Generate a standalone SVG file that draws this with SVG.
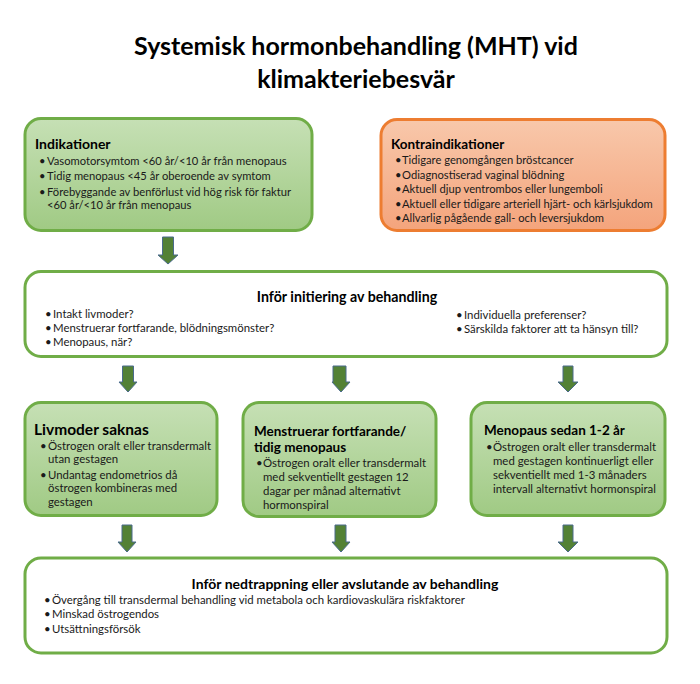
<svg xmlns="http://www.w3.org/2000/svg" width="700" height="684" viewBox="0 0 700 684">
<defs>
<linearGradient id="gG" x1="0" y1="0" x2="0" y2="1">
<stop offset="0" stop-color="#c6e0b5"/>
<stop offset="1" stop-color="#a0ca84"/>
</linearGradient>
<linearGradient id="gO" x1="0" y1="0" x2="0" y2="1">
<stop offset="0" stop-color="#f8c8ab"/>
<stop offset="1" stop-color="#f4a47c"/>
</linearGradient>
<style>
.t{font-family:Lato,"Liberation Sans",sans-serif;fill:#000}
.h{font-weight:bold;font-size:13.5px}
.b{font-size:11.2px;fill:#1a1a1a}
.bs{font-size:11.4px;fill:#1a1a1a}
.bl{font-size:11.4px;fill:#1a1a1a}
.gbox{fill:url(#gG);stroke:#70ad47;stroke-width:3}
.wbox{fill:#fff;stroke:#70ad47;stroke-width:3}
.obox{fill:url(#gO);stroke:#ed7d31;stroke-width:3}
.arr{fill:#538135;stroke:#4a6b8c;stroke-width:1}
</style>
</defs>
<rect width="700" height="684" fill="#fff"/>
<g id="title">
<text class="t" x="356" y="55" text-anchor="middle" font-size="25" font-weight="bold">Systemisk hormonbehandling (MHT) vid</text>
<text class="t" x="356" y="88" text-anchor="middle" font-size="25" font-weight="bold">klimakteriebesvär</text>
</g>
<g id="connectors">
<path class="arr" d="M162.5,237 H173.5 V255 H178 L168,264 L158,255 H162.5 Z"/>
<path class="arr" d="M122.5,366 H133.5 V382 H137 L128,392 L119,382 H122.5 Z"/>
<path class="arr" d="M333,366 H346 V382 H350 L341,392 L332,382 H333 Z"/>
<path class="arr" d="M563,366 H573 V382 H578 L568,392 L558,382 H563 Z"/>
<path class="arr" d="M122,525 H132 V542 H136 L127,552 L118,542 H122 Z"/>
<path class="arr" d="M335,525 H346 V542 H350 L341,552 L332,542 H335 Z"/>
<path class="arr" d="M563,525 H573 V542 H578 L568,552 L558,542 H563 Z"/>
</g>
<g id="indikationer">
<rect class="gbox" x="25" y="118.5" width="287" height="112" rx="16"/>
<text class="t" x="35" y="149" font-weight="bold" font-size="14">Indikationer</text>
<text class="t b"><tspan x="39" y="164.5">•</tspan><tspan x="47" y="164.5">Vasomotorsymtom &lt;60 år/&lt;10 år från menopaus</tspan>
<tspan x="39" y="180">•</tspan><tspan x="47" y="180">Tidig menopaus &lt;45 år oberoende av symtom</tspan>
<tspan x="39" y="196">•</tspan><tspan x="47" y="196">Förebyggande av benförlust vid hög risk för faktur</tspan>
<tspan x="47" y="209">&lt;60 år/&lt;10 år från menopaus</tspan></text>
</g>
<g id="kontraindikationer">
<rect class="obox" x="381" y="119.5" width="284" height="111" rx="16"/>
<text class="t h" x="391" y="149">Kontraindikationer</text>
<text class="t b" font-size="11.3"><tspan x="395" y="164">•</tspan><tspan x="402" y="164">Tidigare genomgången bröstcancer</tspan>
<tspan x="395" y="179">•</tspan><tspan x="402" y="179">Odiagnostiserad vaginal blödning</tspan>
<tspan x="395" y="193">•</tspan><tspan x="402" y="193">Aktuell djup ventrombos eller lungemboli</tspan>
<tspan x="395" y="207.5">•</tspan><tspan x="402" y="207.5">Aktuell eller tidigare arteriell hjärt- och kärlsjukdom</tspan>
<tspan x="395" y="221.5">•</tspan><tspan x="402" y="221.5">Allvarlig pågående gall- och leversjukdom</tspan></text>
</g>
<g id="initiering">
<rect class="wbox" x="25" y="271.5" width="642" height="85" rx="16"/>
<text class="t" x="347" y="302" text-anchor="middle" font-size="14.2" font-weight="bold">Inför initiering av behandling</text>
<text class="t bs"><tspan x="45" y="317.5">•</tspan><tspan x="53" y="317.5">Intakt livmoder?</tspan>
<tspan x="45" y="331.5">•</tspan><tspan x="53" y="331.5">Menstruerar fortfarande, blödningsmönster?</tspan>
<tspan x="45" y="346">•</tspan><tspan x="53" y="346">Menopaus, när?</tspan>
<tspan x="456" y="319">•</tspan><tspan x="464" y="319">Individuella preferenser?</tspan>
<tspan x="456" y="333">•</tspan><tspan x="464" y="333">Särskilda faktorer att ta hänsyn till?</tspan></text>
</g>
<g id="livmoder">
<rect class="gbox" x="25" y="402.5" width="192" height="113" rx="16"/>
<text class="t" x="34" y="435" font-weight="bold" font-size="15.5">Livmoder saknas</text>
<text class="t bl"><tspan x="40" y="449.5">•</tspan><tspan x="48" y="449.5">Östrogen oralt eller transdermalt</tspan>
<tspan x="48" y="463">utan gestagen</tspan>
<tspan x="40" y="478.5">•</tspan><tspan x="48" y="478.5">Undantag endometrios då</tspan>
<tspan x="48" y="492">östrogen kombineras med</tspan>
<tspan x="48" y="505.5">gestagen</tspan></text>
</g>
<g id="menstruerar">
<rect class="gbox" x="243" y="402.5" width="193" height="114" rx="16"/>
<text class="t h" x="254" y="435.5">Menstruerar fortfarande/</text>
<text class="t h" x="254" y="452">tidig menopaus</text>
<text class="t bl"><tspan x="256" y="467">•</tspan><tspan x="263" y="467">Östrogen oralt eller transdermalt</tspan>
<tspan x="263" y="481">med sekventiellt gestagen 12</tspan>
<tspan x="263" y="494.5">dagar per månad alternativt</tspan>
<tspan x="263" y="509">hormonspiral</tspan></text>
</g>
<g id="menopaus">
<rect class="gbox" x="471" y="402.5" width="194" height="113" rx="16"/>
<text class="t h" x="484" y="434.5">Menopaus sedan 1-2 år</text>
<text class="t bl"><tspan x="486" y="450.5">•</tspan><tspan x="493" y="450.5">Östrogen oralt eller transdermalt</tspan>
<tspan x="493" y="465">med gestagen kontinuerligt eller</tspan>
<tspan x="493" y="479">sekventiellt med 1-3 månaders</tspan>
<tspan x="493" y="493">intervall alternativt hormonspiral</tspan></text>
</g>
<g id="nedtrappning">
<rect class="wbox" x="25" y="558" width="642" height="95" rx="16"/>
<text class="t" x="345" y="588.5" text-anchor="middle" font-size="14" font-weight="bold">Inför nedtrappning eller avslutande av behandling</text>
<text class="t bs" font-size="11.3"><tspan x="44" y="603.5">•</tspan><tspan x="52" y="603.5">Övergång till transdermal behandling vid metabola och kardiovaskulära riskfaktorer</tspan>
<tspan x="44" y="618">•</tspan><tspan x="52" y="618">Minskad östrogendos</tspan>
<tspan x="44" y="632.5">•</tspan><tspan x="52" y="632.5">Utsättningsförsök</tspan></text>
</g>
</svg>
